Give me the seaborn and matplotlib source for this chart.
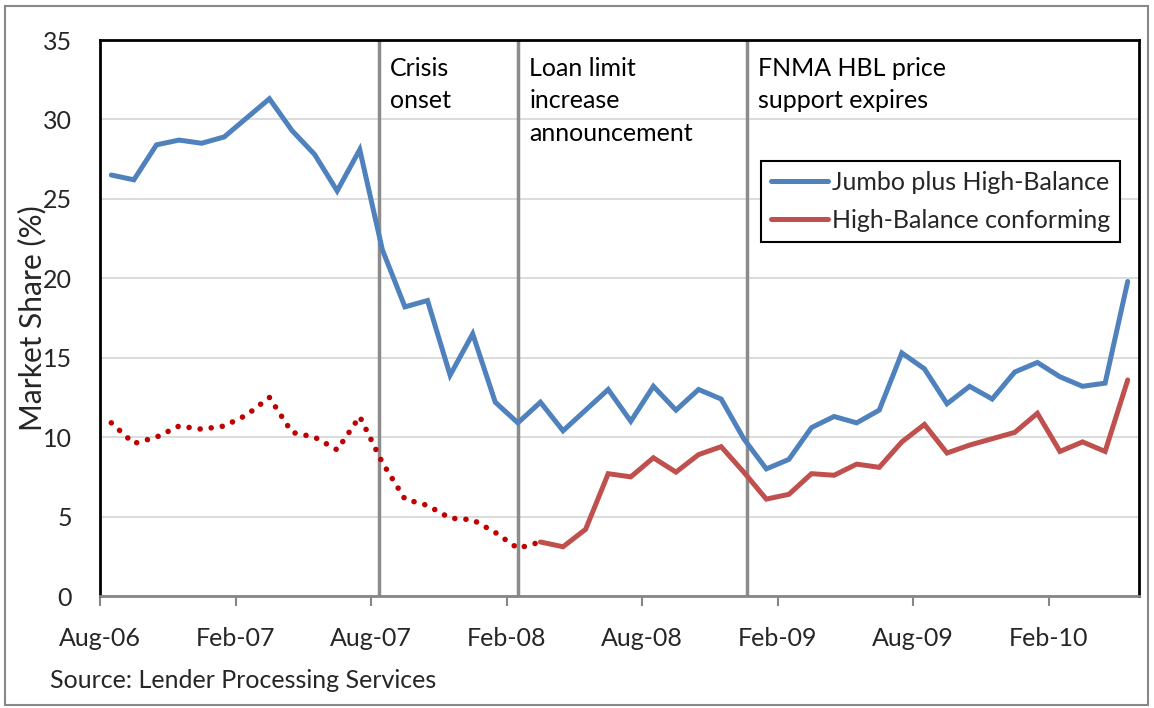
import matplotlib
matplotlib.use("Agg")
import matplotlib.pyplot as plt
from matplotlib.lines import Line2D
from matplotlib.patches import Rectangle
import numpy as np
import pandas as pd
import seaborn as sns

# ---------------------------------------------------------------------------
# Data: monthly market share (%), Aug-06 .. May-10
# ---------------------------------------------------------------------------
months = pd.date_range("2006-08-01", "2010-05-01", freq="MS")

jumbo = [26.5, 26.2, 28.4, 28.7, 28.5, 28.9, 30.1, 31.3, 29.3, 27.8,
         25.5, 28.1, 21.8, 18.2, 18.6, 13.9, 16.5, 12.2, 10.9, 12.2,
         10.4, 11.7, 13.0, 11.0, 13.2, 11.7, 13.0, 12.4, 9.9, 8.0,
         8.6, 10.6, 11.3, 10.9, 11.7, 15.3, 14.3, 12.1, 13.2, 12.4,
         14.1, 14.7, 13.8, 13.2, 13.4, 19.8]

# high-balance share before the program existed (estimated, dotted)
hb_before = [10.9, 9.6, 10.0, 10.7, 10.5, 10.7, 11.4, 12.5, 10.3, 10.0,
             9.2, 11.3, 8.4, 6.1, 5.7, 4.9, 4.8, 4.0, 3.0, 3.4]
# high-balance conforming, from Mar-08 onwards
hb_after = [3.4, 3.1, 4.2, 7.7, 7.5, 8.7, 7.8, 8.9, 9.4, 7.8,
            6.1, 6.4, 7.7, 7.6, 8.3, 8.1, 9.7, 10.8, 9.0, 9.5,
            9.9, 10.3, 11.5, 9.1, 9.7, 9.1, 13.6]

tick_labels = ["Aug-06", "Feb-07", "Aug-07", "Feb-08",
               "Aug-08", "Feb-09", "Aug-09", "Feb-10"]

event_labels = ["Crisis\nonset",
                "Loan limit\nincrease\nannouncement",
                "FNMA HBL price\nsupport expires"]
event_months = [12.35, 18.5, 28.65]  # months after 1 Aug 2006

series_names = ["Jumbo plus High-Balance", "High-Balance conforming"]

# ---------------------------------------------------------------------------
# Frames
# ---------------------------------------------------------------------------
t = np.arange(len(months)) + 0.5  # plotted at mid-month
df_jumbo = pd.DataFrame({"t": t, "share": jumbo})
n_before = len(hb_before)
df_before = pd.DataFrame({"t": t[:n_before], "share": hb_before})
df_after = pd.DataFrame({"t": t[n_before - 1:], "share": hb_after})

BLUE = "#4F81BD"
RED = "#C0504D"
DARK_RED = "#C00000"
GREY = "#8C8C8C"

sns.set_theme(style="white")
plt.rcParams["font.family"] = ["Lato", "DejaVu Sans"]
FS = 18

fig = plt.figure(figsize=(11.54, 7.08), dpi=100)
ax = fig.add_axes([100 / 1154, 1 - 596 / 708, 1039 / 1154, 556 / 708])

# ---- lines -----------------------------------------------------------------
sns.lineplot(data=df_jumbo, x="t", y="share", ax=ax, color=BLUE, lw=3.6,
             solid_capstyle="round", solid_joinstyle="miter")
sns.lineplot(data=df_before, x="t", y="share", ax=ax, color=DARK_RED, lw=4.0,
             linestyle=(0, (0.01, 2.0)), dash_capstyle="round")
sns.lineplot(data=df_after, x="t", y="share", ax=ax, color=RED, lw=3.6,
             solid_capstyle="round", solid_joinstyle="miter")

# ---- event markers ------------------------------------------------------------
for xm, lab in zip(event_months, event_labels):
    ax.axvline(xm, color=GREY, lw=2.5, zorder=1)
    ax.text(xm + 0.5, 33.95, lab, fontsize=FS, va="top", ha="left",
            linespacing=1.5, color="black")

# ---- axes ------------------------------------------------------------------
ax.set_xlim(0, len(months))
ax.set_ylim(0, 35)
ax.set_yticks(np.arange(0, 36, 5))
ax.set_xticks(np.arange(0, len(months), 6))
ax.set_xticklabels(tick_labels)
ax.set_xlabel("")
ax.set_ylabel("Market Share (%)", fontsize=21.5)
ax.yaxis.set_label_coords(-0.052, 0.5)
ax.yaxis.grid(True, color="#D9D9D9", lw=1.3)
ax.xaxis.grid(False)
ax.set_axisbelow(True)
ax.tick_params(axis="y", length=0, pad=20, labelsize=FS)
ax.tick_params(axis="x", length=7, width=1.5, color="#868686",
               direction="out", pad=15, labelsize=FS, bottom=True)
for side in ["top", "left", "right"]:
    ax.spines[side].set_color("black")
    ax.spines[side].set_linewidth(2)
ax.spines["bottom"].set_color("#868686")
ax.spines["bottom"].set_linewidth(2)

handles = [Line2D([], [], color=BLUE, lw=3.6, solid_capstyle="round"),
           Line2D([], [], color=RED, lw=3.6, solid_capstyle="round")]
leg = ax.legend(handles, series_names, loc="upper left",
                bbox_to_anchor=(0.636, 0.782), fontsize=FS, frameon=True,
                fancybox=False, framealpha=1, edgecolor="black",
                handlelength=2.3, handletextpad=0.15, borderpad=0.4,
                labelspacing=0.6, borderaxespad=0)
leg.get_frame().set_linewidth(1.5)

fig.text(50 / 1154, 1 - 681 / 708, "Source: Lender Processing Services",
         fontsize=FS, va="center", ha="left")

# chart border
fig.patches.append(Rectangle((5 / 1154, 3 / 708), 1143 / 1154, 699 / 708,
                             transform=fig.transFigure, fill=False,
                             edgecolor="#888888", lw=1.5))

fig.savefig("out.png", dpi=100)
